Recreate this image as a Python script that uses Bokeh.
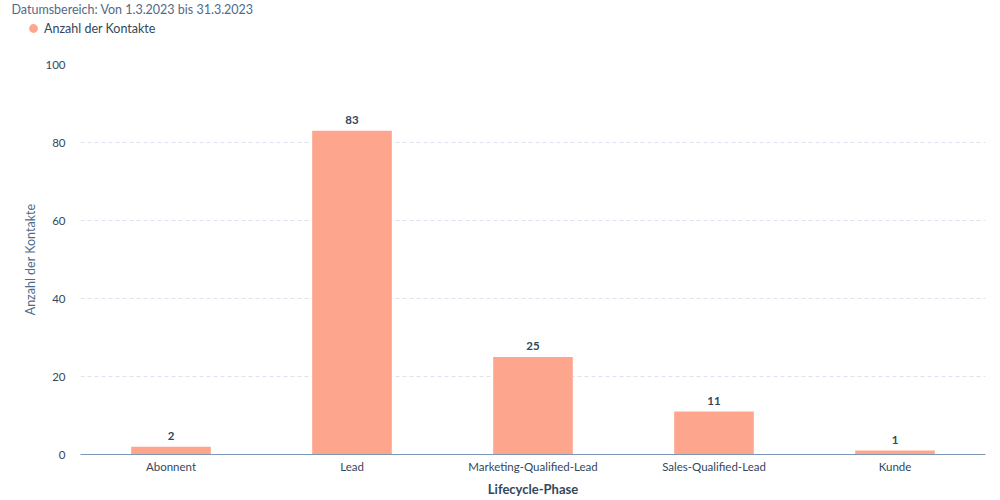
from bokeh.plotting import figure
from bokeh.layouts import column, row
from bokeh.models import ColumnDataSource, Legend, LegendItem, Range1d, LabelSet, Label
from bokeh.core.properties import value
from bokeh.embed import file_html
from bokeh.resources import INLINE

title_text = "Datumsbereich: Von 1.3.2023 bis 31.3.2023"
series_name = "Anzahl der Kontakte"
categories = ["Abonnent", "Lead", "Marketing-Qualified-Lead", "Sales-Qualified-Lead", "Kunde"]
counts = [2, 83, 25, 11, 1]
y_ticks = [0, 20, 40, 60, 80, 100]

FONT = "Lato"
BAR = "#fea58e"
TXT = "#33475b"
SUB = "#4f6a8a"

W = 992

# ---- header strip (title + legend) ----
head = figure(width=W, height=56, x_range=Range1d(0, W), y_range=Range1d(0, 56),
              output_backend="svg", toolbar_location=None,
              x_axis_type=None, y_axis_type=None,
              min_border_left=0, min_border_right=0, min_border_top=0, min_border_bottom=0)
head.outline_line_color = None
head.xgrid.visible = False
head.ygrid.visible = False
head.add_layout(Label(x=11, y=47, text=title_text, text_baseline="middle",
                      text_font=FONT, text_font_size="12.5px", text_color=SUB))
dot = head.scatter(x=[-100], y=[-100], size=9, color=BAR, line_color=None)
legend = Legend(items=[LegendItem(label=series_name, renderers=[dot])],
                orientation="horizontal", location=(22, 17),
                label_text_font=FONT, label_text_font_size="12.5px", label_text_color=TXT,
                border_line_color=None, background_fill_alpha=0, padding=0, margin=0,
                glyph_width=22, glyph_height=22, label_standoff=0, spacing=0,
                label_height=12)
head.add_layout(legend)

# ---- main chart ----
src = ColumnDataSource(dict(cat=categories, val=counts, lab=[str(v) for v in counts]))

p = figure(x_range=categories, y_range=Range1d(0, 100), width=W, height=444,
           output_backend="svg", toolbar_location=None,
           min_border_left=80, min_border_right=7, min_border_bottom=46, min_border_top=8)
p.outline_line_color = None

for fig in (head, p):
    if "frame_align" in fig.properties():
        fig.frame_align = False

p.vbar(x="cat", top="val", width=0.44, source=src, color=BAR, line_color=None)

labels = LabelSet(x="cat", y="val", text="lab", source=src, y_offset=7,
                  text_align="center", text_baseline="bottom",
                  text_font=value(FONT), text_font_size=value("11.5px"), text_font_style="bold",
                  text_color=TXT)
p.add_layout(labels)

p.yaxis.ticker = y_ticks
p.yaxis.axis_line_color = None
p.yaxis.major_tick_line_color = None
p.yaxis.minor_tick_line_color = None
p.yaxis.major_tick_out = 0
p.yaxis.major_tick_in = 0
p.yaxis.major_label_text_font = FONT
p.yaxis.major_label_text_font_size = "11.5px"
p.yaxis.major_label_text_color = TXT
p.yaxis.major_label_standoff = 15
p.yaxis.axis_label = series_name
p.yaxis.axis_label_text_font = FONT
p.yaxis.axis_label_text_font_size = "12.5px"
p.yaxis.axis_label_text_font_style = "normal"
p.yaxis.axis_label_text_color = SUB
p.yaxis.axis_label_standoff = 4

p.xaxis.axis_line_color = "#7c98b6"
p.xaxis.axis_line_width = 1.2
p.xaxis.major_tick_line_color = None
p.xaxis.minor_tick_line_color = None
p.xaxis.major_tick_out = 0
p.xaxis.major_tick_in = 0
p.xaxis.major_label_text_font = FONT
p.xaxis.major_label_text_font_size = "11.5px"
p.xaxis.major_label_text_color = TXT
p.xaxis.major_label_standoff = 5
p.xaxis.axis_label = "Lifecycle-Phase"
p.xaxis.axis_label_text_font = FONT
p.xaxis.axis_label_text_font_size = "13px"
p.xaxis.axis_label_text_font_style = "bold"
p.xaxis.axis_label_text_color = TXT
p.xaxis.axis_label_standoff = 5

p.xgrid.grid_line_color = None
p.ygrid.grid_line_color = "#dde3ee"
p.ygrid.grid_line_dash = "4 3"

layout = column(row(head, spacing=0), p, spacing=0)
open("out.html", "w").write(file_html(layout, INLINE))
